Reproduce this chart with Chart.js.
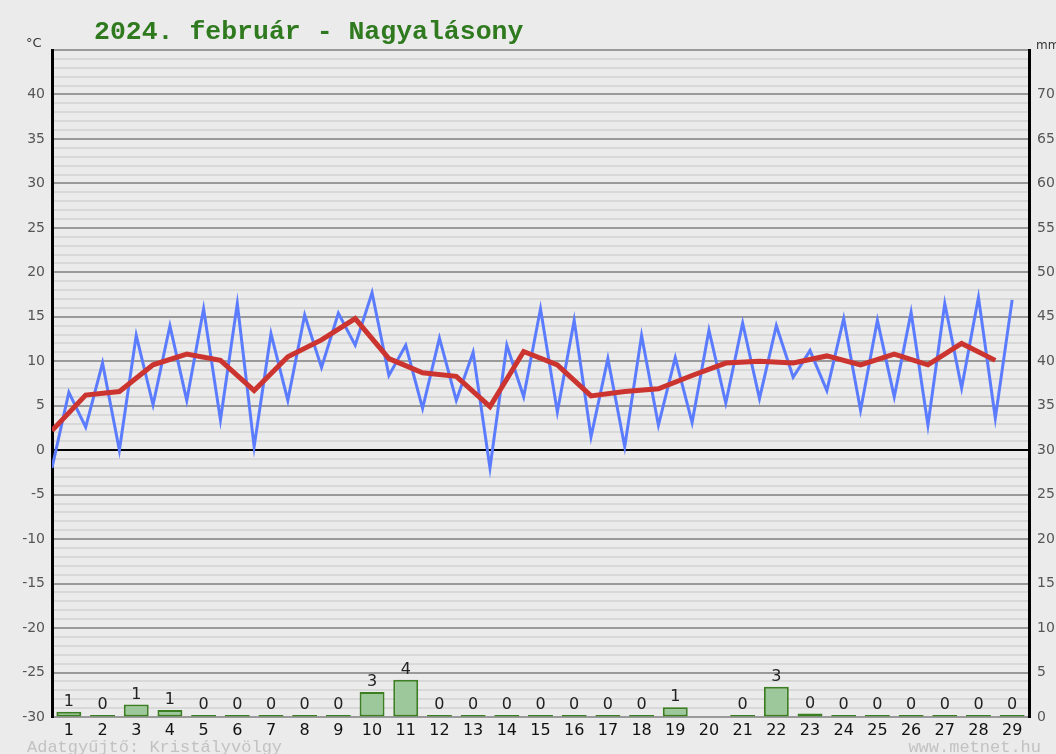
<!DOCTYPE html>
<html>
<head>
<meta charset="utf-8">
<script src="https://cdn.jsdelivr.net/npm/chart.js@4.4.1/dist/chart.umd.min.js"></script>
<style>
  html, body { margin: 0; padding: 0; background: #ebebeb; }
  canvas { display: block; }
</style>
</head>
<body>
<canvas id="myChart" width="1056" height="754"></canvas>
<script>
  //data block
  const days = ['1', '2', '3', '4', '5', '6', '7', '8', '9', '10', '11', '12', '13', '14', '15',
    '16', '17', '18', '19', '20', '21', '22', '23', '24', '25', '26', '27', '28', '29'];
  const tMin = [-2.0, 2.6, 0.0, 5.1, 5.6, 3.4, 0.4, 5.6, 9.3, 11.8, 8.4, 4.7, 5.6, -2.0, 6.0,
    4.3, 1.5, 0.4, 2.8, 3.1, 5.3, 5.8, 8.2, 6.7, 4.5, 6.0, 2.8, 7.0, 3.6];
  const tMax = [6.5, 9.8, 12.9, 14.0, 15.9, 16.5, 13.1, 15.2, 15.4, 17.7, 11.8, 12.6, 11.0, 11.8, 15.9,
    14.6, 10.3, 12.9, 10.4, 13.5, 14.3, 14.0, 11.2, 14.8, 14.6, 15.5, 16.5, 17.2, 16.9];
  const tAvg = [2.2, 6.2, 6.6, 9.6, 10.8, 10.1, 6.7, 10.5, 12.4, 14.8, 10.3, 8.7, 8.3, 4.9, 11.1,
    9.6, 6.1, 6.6, 6.9, 8.4, 9.8, 10.0, 9.8, 10.6, 9.6, 10.8, 9.6, 12.0, 10.1];
  const precip = [0.6, 0, 1.4, 0.8, 0, 0, 0, 0, 0, 2.8, 4.2, 0, 0, 0, 0,
    0, 0, 0, 1.1, null, 0, 3.4, 0.4, 0, 0, 0, 0, 0, 0];

  // min / max alternate, two points per day
  const minMaxPts = [];
  days.forEach((d, i) => {
    minMaxPts.push({x: i, y: tMin[i]});
    minMaxPts.push({x: i + 0.5, y: tMax[i]});
  });
  const avgPts = tAvg.map((v, i) => ({x: i, y: v}));

  //plugins
  const bgPlugin = {
    id: 'bgPlugin',
    beforeDraw(chart) {
      const {ctx, width, height} = chart;
      ctx.save();
      ctx.fillStyle = '#ebebeb';
      ctx.fillRect(0, 0, width, height);
      ctx.restore();
    }
  };

  const precipLabels = {
    id: 'precipLabels',
    afterDatasetsDraw(chart) {
      const {ctx} = chart;
      const meta = chart.getDatasetMeta(0);
      ctx.save();
      ctx.font = '16px "DejaVu Sans"';
      ctx.fillStyle = '#222';
      ctx.textAlign = 'center';
      ctx.textBaseline = 'bottom';
      meta.data.forEach((bar, i) => {
        if (precip[i] === null) return;
        ctx.fillText(Math.round(precip[i]), bar.x, bar.y - 2);
      });
      ctx.restore();
    }
  };

  const texts = {
    id: 'texts',
    afterDraw(chart) {
      const {ctx} = chart;
      ctx.save();
      ctx.font = 'bold 26.5px "Liberation Mono"';
      ctx.fillStyle = '#2f7a1f';
      ctx.textAlign = 'left';
      ctx.textBaseline = 'alphabetic';
      ctx.fillText('2024. február - Nagyalásony', 94, 39);

      ctx.font = '13px "DejaVu Sans"';
      ctx.fillStyle = '#333';
      ctx.fillText('°C', 26, 47);
      ctx.font = '12px "DejaVu Sans"';
      ctx.fillText('mm', 1036, 49);

      ctx.font = '17px "Liberation Mono"';
      ctx.fillStyle = '#c2c2c2';
      ctx.fillText('Adatgyűjtő: Kristályvölgy', 27, 752);
      ctx.textAlign = 'right';
      ctx.fillText('www.metnet.hu', 1041, 752);
      ctx.restore();
    }
  };

  //config block
  const config = {
    type: 'bar',
    data: {
      labels: days,
      datasets: [{
        type: 'bar',
        data: precip,
        xAxisID: 'x',
        yAxisID: 'y2',
        backgroundColor: '#9dc89b',
        borderColor: '#3c7f22',
        borderWidth: 2,
        borderSkipped: false,
        minBarLength: 2,
        grouped: false,
        barPercentage: 0.74,
        categoryPercentage: 1,
        order: 2
      }, {
        type: 'line',
        data: minMaxPts,
        xAxisID: 'x2',
        yAxisID: 'y',
        borderColor: 'rgb(92, 124, 255)',
        borderWidth: 3,
        pointRadius: 0,
        tension: 0,
        order: 1
      }, {
        type: 'line',
        data: avgPts,
        xAxisID: 'x2',
        yAxisID: 'y',
        borderColor: 'rgb(204, 52, 48)',
        borderWidth: 5,
        pointRadius: 0,
        tension: 0,
        order: 0
      }]
    },
    options: {
      responsive: false,
      devicePixelRatio: 1,
      animation: false,
      layout: {padding: {top: 50, left: 0, right: 0, bottom: 0}},
      plugins: {
        legend: {display: false},
        tooltip: {enabled: false}
      },
      scales: {
        x: {
          type: 'category',
          offset: true,
          grid: {display: false},
          border: {display: false},
          ticks: {
            color: '#111',
            font: {family: 'DejaVu Sans', size: 16},
            padding: -4,
            autoSkip: false,
            maxRotation: 0
          },
          afterFit(scale) { scale.height = 37; }
        },
        x2: {
          type: 'linear',
          min: 0,
          max: 29,
          offset: false,
          display: false
        },
        y: {
          position: 'left',
          min: -30,
          max: 45,
          grid: {
            color: (c) => c.tick.value === 0 ? '#000' : (c.tick.value % 5 === 0 ? '#9a9a9a' : '#d8d8d8'),
            lineWidth: 2,
            drawTicks: false
          },
          border: {display: true, color: '#000', width: 3},
          ticks: {
            stepSize: 1,
            maxTicksLimit: 1000,
            autoSkip: false,
            color: '#555',
            font: {family: 'DejaVu Sans', size: 14},
            padding: 7,
            callback: (v) => (v % 5 === 0 && v < 45) ? v : ''
          },
          afterFit(scale) { scale.width = 52; }
        },
        y2: {
          position: 'right',
          min: 0,
          max: 75,
          grid: {drawOnChartArea: false, drawTicks: false},
          border: {display: true, color: '#000', width: 3},
          ticks: {
            stepSize: 5,
            autoSkip: false,
            color: '#555',
            font: {family: 'DejaVu Sans', size: 14},
            padding: 8,
            callback: (v) => v < 75 ? v : ''
          },
          afterFit(scale) { scale.width = 27; }
        }
      }
    },
    plugins: [bgPlugin, precipLabels, texts]
  };

  //render block
  const myChart = new Chart(document.getElementById('myChart'), config);
</script>
</body>
</html>
